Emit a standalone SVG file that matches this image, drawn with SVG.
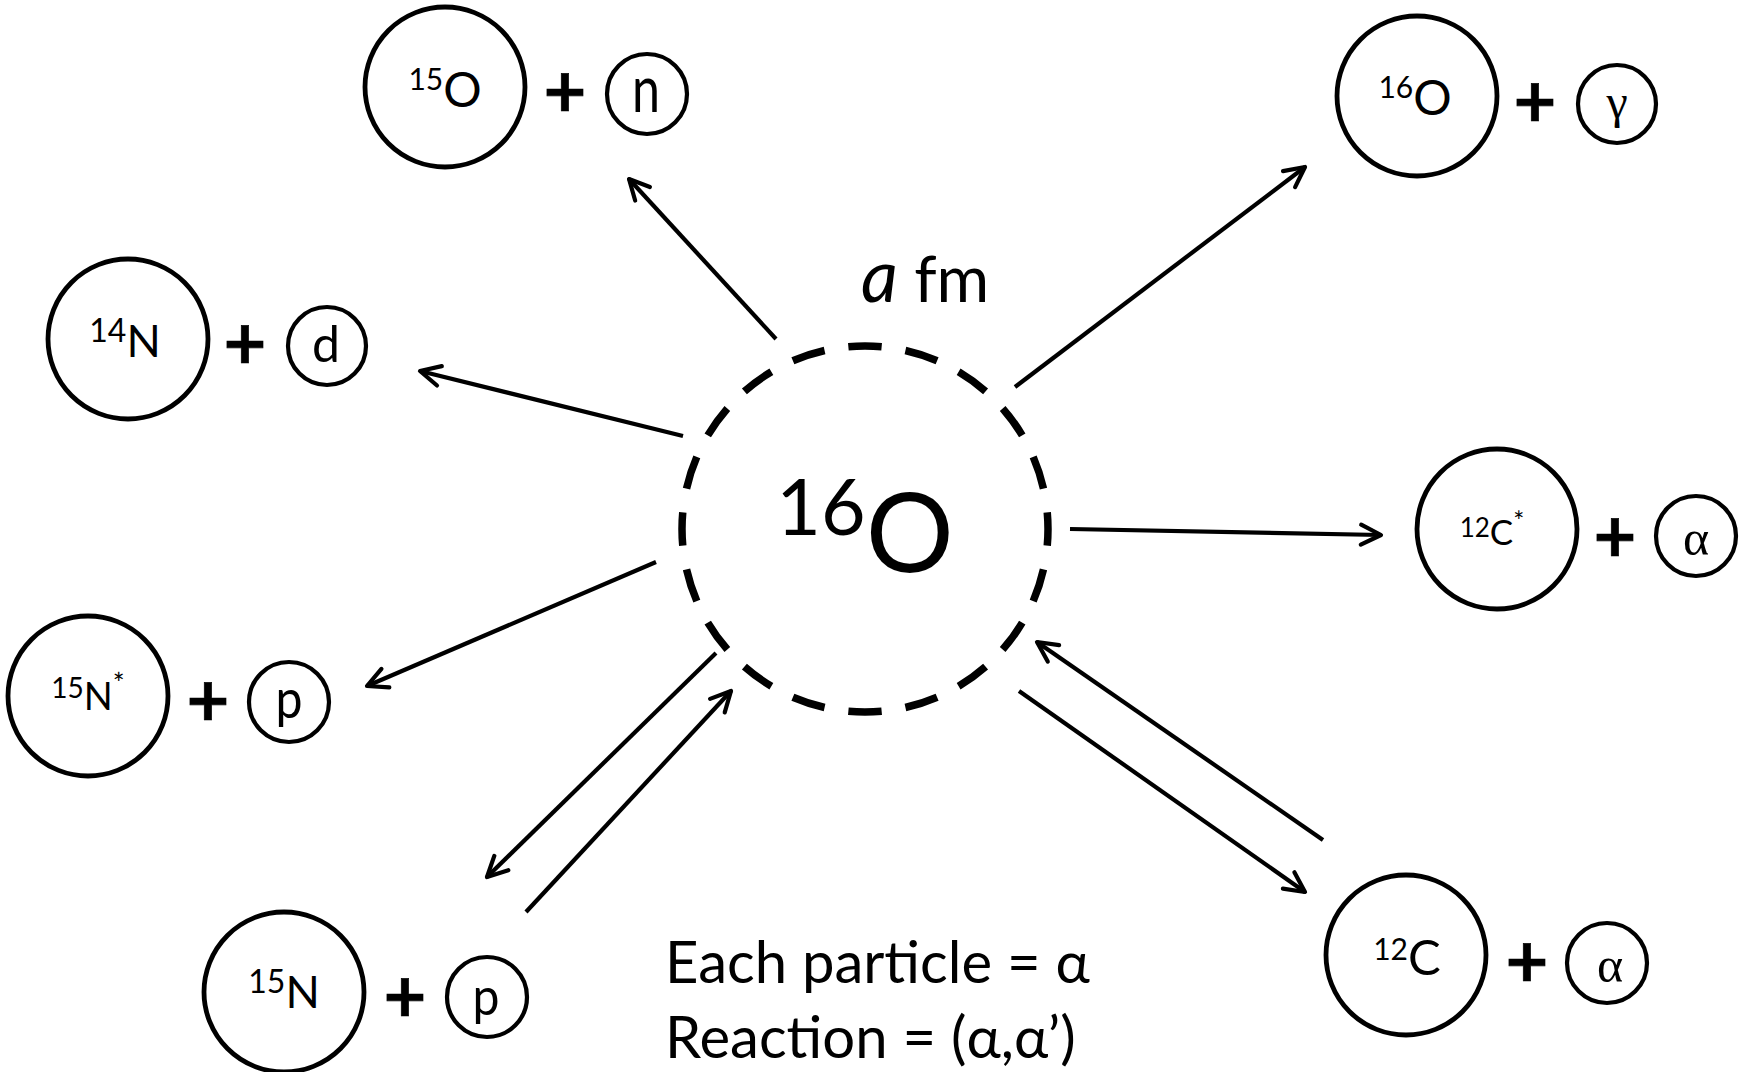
<svg xmlns="http://www.w3.org/2000/svg" width="1752" height="1072" viewBox="0 0 1752 1072">
<style>
text{font-family:Lato,'Open Sans','Liberation Sans',sans-serif;fill:#000}
.big{fill:none;stroke:#000;stroke-width:4.8}
.small{fill:none;stroke:#000;stroke-width:4.2}
.plus{font-weight:bold;font-size:74px;stroke:#000;stroke-width:0.6}
.greek{font-family:'Liberation Serif','DejaVu Serif',serif}
.conn line{stroke:#000;stroke-width:4.2;fill:none}
</style>
<defs>
<marker id="ah" markerUnits="userSpaceOnUse" markerWidth="40" markerHeight="40" refX="0" refY="0" orient="auto" overflow="visible">
<path d="M-20,-10 L0,0 L-20,10" fill="none" stroke="#000" stroke-width="4.2" stroke-linejoin="round" stroke-linecap="round"/>
</marker>
</defs>
<rect width="1752" height="1072" fill="#fff"/>

<g id="center">
<circle cx="865" cy="529" r="183" fill="none" stroke="#000" stroke-width="7.5" pathLength="20" stroke-dasharray="0.58 0.42" stroke-dashoffset="0.29"/>
<text x="865" y="572" text-anchor="middle"><tspan font-size="77" dy="-37">16</tspan><tspan font-size="110" dy="37">O</tspan></text>
<text x="861" y="302"><tspan font-style="italic" font-size="72">a</tspan><tspan font-size="64"> fm</tspan></text>
</g>

<g id="n15O">
<circle class="big" cx="445" cy="87" r="80"/>
<text x="445" y="107" text-anchor="middle"><tspan font-size="30" dy="-17">15</tspan><tspan font-size="48" dy="17">O</tspan></text>
<text class="plus" x="565" y="117" text-anchor="middle">+</text>
<circle class="small" cx="647" cy="94" r="40"/>
<text x="646" y="112" text-anchor="middle" font-size="66" textLength="28" lengthAdjust="spacingAndGlyphs">n</text>
</g>

<g id="n16O">
<circle class="big" cx="1417" cy="96" r="80"/>
<text x="1415" y="115" text-anchor="middle"><tspan font-size="30" dy="-17">16</tspan><tspan font-size="48" dy="17">O</tspan></text>
<text class="plus" x="1535" y="127" text-anchor="middle">+</text>
<circle class="small" cx="1617" cy="104" r="39"/>
<text class="greek" x="1617" y="118" text-anchor="middle" font-size="48">γ</text>
</g>

<g id="n14N">
<circle class="big" cx="128" cy="339" r="80"/>
<text x="125" y="357" text-anchor="middle"><tspan font-size="32" dy="-15">14</tspan><tspan font-size="45" dy="15">N</tspan></text>
<text class="plus" x="245" y="369" text-anchor="middle">+</text>
<circle class="small" cx="327" cy="346" r="39"/>
<text x="326" y="362" text-anchor="middle" font-size="50">d</text>
</g>

<g id="n15Nstar">
<circle class="big" cx="88" cy="696" r="80"/>
<text x="88" y="710" text-anchor="middle"><tspan font-size="28" dy="-12">15</tspan><tspan font-size="38" dy="12">N</tspan><tspan font-size="28" dy="-16">*</tspan></text>
<text class="plus" x="208" y="726" text-anchor="middle">+</text>
<circle class="small" cx="289" cy="702" r="40"/>
<text x="289" y="718" text-anchor="middle" font-size="55" textLength="27" lengthAdjust="spacingAndGlyphs">p</text>
</g>

<g id="n12Cstar">
<circle class="big" cx="1497" cy="529" r="80"/>
<text x="1492" y="545" text-anchor="middle"><tspan font-size="26" dy="-8">12</tspan><tspan font-size="35" dy="8">C</tspan><tspan font-size="26" dy="-14">*</tspan></text>
<text class="plus" x="1615" y="562" text-anchor="middle">+</text>
<circle class="small" cx="1696" cy="536" r="40"/>
<text class="greek" x="1696" y="555" text-anchor="middle" font-size="50">α</text>
</g>

<g id="n15N">
<circle class="big" cx="284" cy="992" r="80"/>
<text x="284" y="1008" text-anchor="middle"><tspan font-size="32" dy="-15">15</tspan><tspan font-size="45" dy="15">N</tspan></text>
<text class="plus" x="405" y="1022" text-anchor="middle">+</text>
<circle class="small" cx="487" cy="997" r="40"/>
<text x="486" y="1015" text-anchor="middle" font-size="53" textLength="27" lengthAdjust="spacingAndGlyphs">p</text>
</g>

<g id="n12C">
<circle class="big" cx="1406" cy="955" r="80"/>
<text x="1407" y="975" text-anchor="middle"><tspan font-size="30" dy="-15">12</tspan><tspan font-size="49" dy="15">C</tspan></text>
<text class="plus" x="1527" y="987" text-anchor="middle">+</text>
<circle class="small" cx="1607" cy="963" r="40"/>
<text class="greek" x="1610" y="982" text-anchor="middle" font-size="50">α</text>
</g>

<g id="legend">
<text x="665" y="983" font-size="58">Each particle = α</text>
<text x="665" y="1058" font-size="58">Reaction = (α,α’)</text>
</g>

<g id="connectors" class="conn">
<line x1="776" y1="339" x2="629" y2="179" marker-end="url(#ah)"/>
<line x1="683" y1="436" x2="420" y2="371" marker-end="url(#ah)"/>
<line x1="656" y1="562" x2="367" y2="686" marker-end="url(#ah)"/>
<line x1="716" y1="653" x2="487" y2="877" marker-end="url(#ah)"/>
<line x1="526" y1="912" x2="731" y2="691" marker-end="url(#ah)"/>
<line x1="1015" y1="387" x2="1305" y2="167" marker-end="url(#ah)"/>
<line x1="1070" y1="529" x2="1381" y2="535" marker-end="url(#ah)"/>
<line x1="1019" y1="691" x2="1305" y2="892" marker-end="url(#ah)"/>
<line x1="1323" y1="840" x2="1037" y2="642" marker-end="url(#ah)"/>
</g>
</svg>
